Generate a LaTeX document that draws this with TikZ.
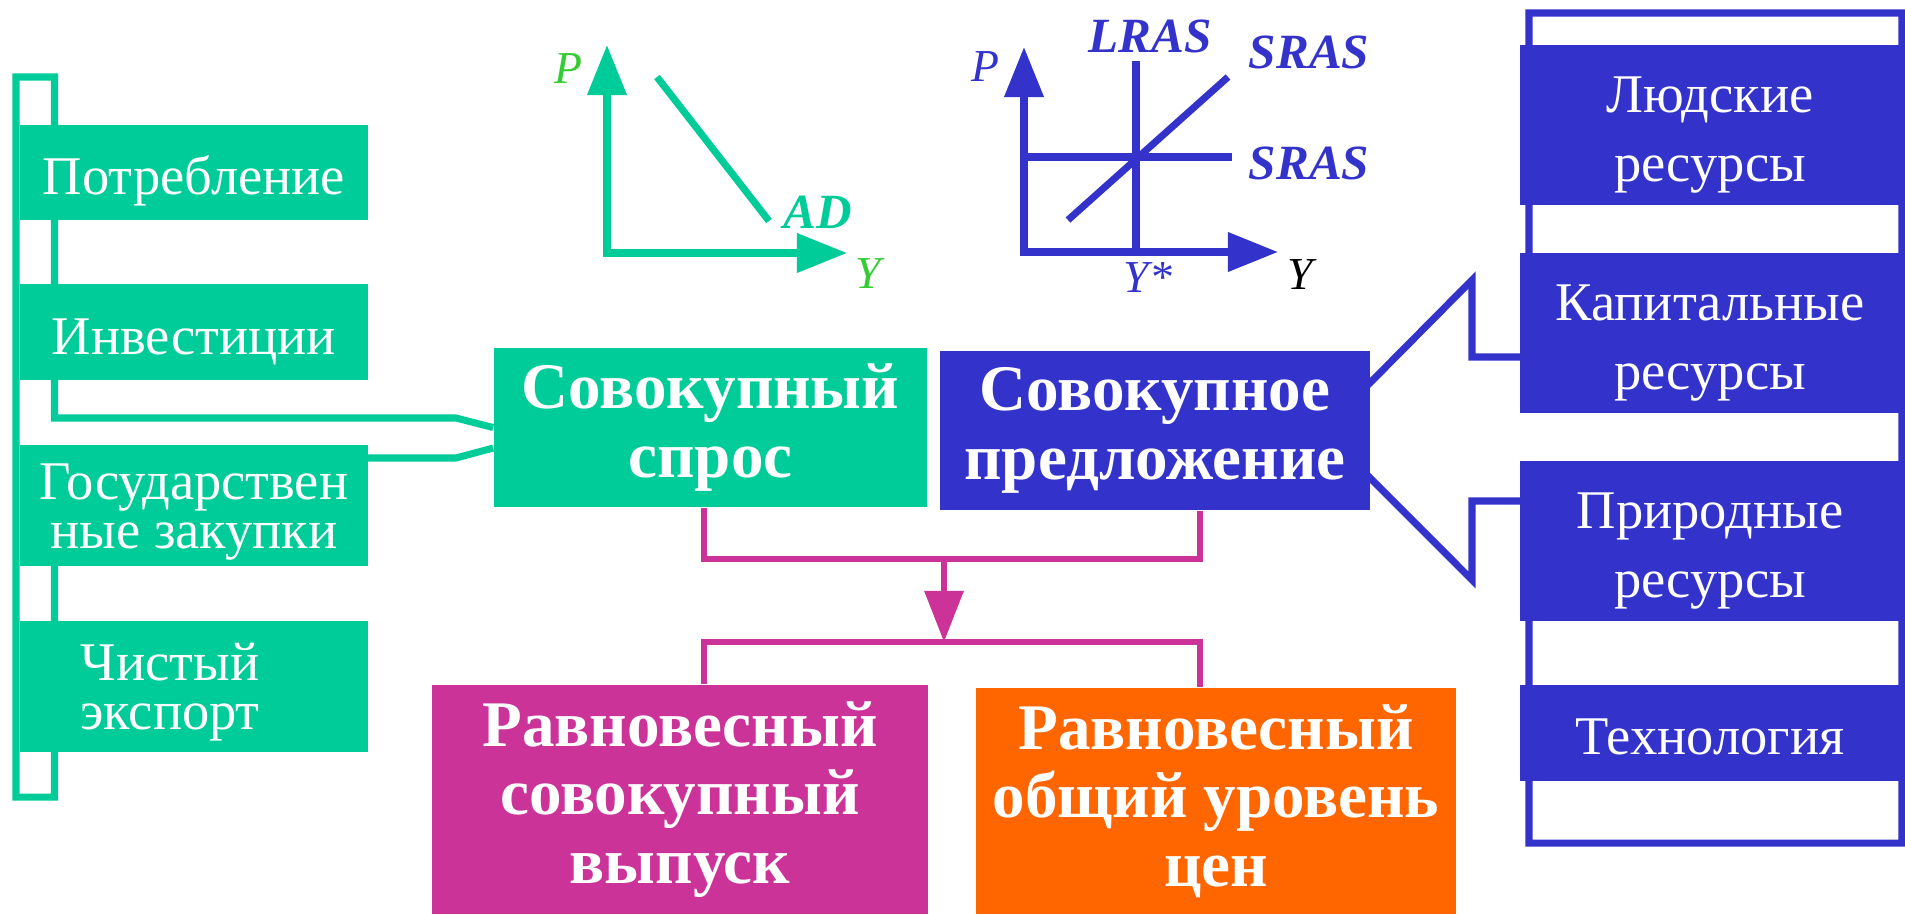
\documentclass[tikz,border=0pt]{standalone}
\usepackage{fontspec}
\setmainfont{Liberation Serif}
\usepackage{xcolor}
\usepackage{tikz}
\usetikzlibrary{arrows.meta,backgrounds}
\definecolor{adgreen}{RGB}{0,204,153}
\definecolor{lblgreen}{RGB}{51,204,51}
\definecolor{asblue}{RGB}{51,51,204}
\definecolor{eqmagenta}{RGB}{204,51,153}
\definecolor{eqorange}{RGB}{255,102,0}
\newcommand{\tlift}[1]{\rule{0pt}{#1}}

\begin{document}
\begin{tikzpicture}[x=0.01cm, y=-0.01cm,
  lbox/.style={fill=adgreen, text=white, align=center, inner sep=0pt,
               minimum width=3.48cm, font=\fontsize{15.5}{14}\selectfont},
  rbox/.style={fill=asblue, text=white, align=center, inner sep=0pt,
               minimum width=3.8cm, font=\fontsize{15.5}{19.5}\selectfont},
  bigbox/.style={text=white, align=center, inner sep=0pt,
                 font=\bfseries\fontsize{18.5}{19.5}\selectfont},
  grax/.style={line width=2pt,
               {Triangle[length=5mm,width=3.8mm]}-{Triangle[length=5mm,width=3.8mm]}},
  grline/.style={line width=2pt},
  lbl/.style={font=\itshape\fontsize{13}{13}\selectfont, inner sep=0pt},
  blbl/.style={font=\bfseries\itshape\fontsize{14}{14}\selectfont, inner sep=0pt},
  magline/.style={draw=eqmagenta, line width=1.7pt},
  brline/.style={line width=2pt, line join=miter}
]
  \useasboundingbox (0,0) rectangle (1905,914);

  % components of demand
  \node[lbox, minimum height=0.95cm] (cons) at (194,172.5) {\tlift{16pt}Потребление};
  \node[lbox, minimum height=0.96cm] (inv)  at (194,332)   {\tlift{16pt}Инвестиции};
  \node[lbox, minimum height=1.21cm] (gov)  at (194,505.5) {\tlift{14pt}Государствен\\ные закупки};
  \node[lbox, minimum height=1.31cm] (nx)   at (194,686.5)
        {\tlift{14pt}Чистый\hspace*{0.48cm}\\экспорт\hspace*{0.48cm}};

  % factors of supply
  \node[rbox, minimum height=1.6cm]  (labor) at (1710,125) {\tlift{16pt}Людские\\ресурсы};
  \node[rbox, minimum height=1.6cm]  (capit) at (1710,333) {\tlift{16pt}Капитальные\\ресурсы};
  \node[rbox, minimum height=1.6cm]  (natur) at (1710,541) {\tlift{16pt}Природные\\ресурсы};
  \node[rbox, minimum height=0.96cm] (tech)  at (1710,733) {\tlift{12.5pt}Технология};

  % main blocks
  \node[bigbox, fill=adgreen, minimum width=4.33cm, minimum height=1.59cm]
        (spros) at (710.5,427.5) {Совокупный\\спрос};
  \node[bigbox, fill=asblue, minimum width=4.3cm, minimum height=1.59cm]
        (predl) at (1155,430.5) {Совокупное\\предложение};
  \node[bigbox, fill=eqmagenta, minimum width=4.96cm, minimum height=2.29cm]
        (vypusk) at (680,799.5) {Равновесный\\совокупный\\выпуск};
  \node[bigbox, fill=eqorange, minimum width=4.8cm, minimum height=2.26cm]
        (ceny) at (1216,801) {Равновесный\\общий уровень\\цен};

  % brackets behind the boxes
  \begin{scope}[on background layer]
    \draw[adgreen, brline] (spros.west) -- (456,418) -- (54.5,418) -- (54.5,77)
      -- (16,77) -- (16,797) -- (54.5,797) -- (54.5,458) -- (456,458)
      -- ([yshift=-0.205cm]spros.west);
    \draw[asblue, brline] ([xshift=-0.48cm]predl.east) -- (1472,280) -- (1472,357)
      -- (1529,357) -- (1529,13) -- (1902,13) -- (1902,843) -- (1529,843)
      -- (1529,501) -- (1472,501) -- (1472,580) -- cycle;
  \end{scope}

  % AD graph
  \draw[adgreen, grax] (607,45) -- (607,253) -- (847,253);
  \draw[adgreen, grline] (657,77) -- (769,221);
  \node[lbl, text=lblgreen] (adP) at (568,69) {P};
  \node[blbl, text=adgreen] (adAD) at (818,212) {AD};
  \node[lbl, text=lblgreen] (adY) at (868,274) {Y};

  % AS graph
  \draw[asblue, grax] (1024,47) -- (1024,252) -- (1278,252);
  \draw[asblue, grline] (1136,61) -- (1136,252);
  \draw[asblue, grline] (1024,157) -- (1232,157);
  \draw[asblue, grline] (1068,220) -- (1228,77);
  \node[lbl, text=asblue] (asP) at (985,67) {P};
  \node[blbl, text=asblue] (lras) at (1150,36) {LRAS};
  \node[blbl, text=asblue] (srasA) at (1309,52) {SRAS};
  \node[blbl, text=asblue] (srasB) at (1309,163) {SRAS};
  \node[lbl, text=asblue] (ystar) at (1148,278) {Y*};
  \node[lbl, text=black] (asY) at (1300,275) {Y};

  % equilibrium connectors
  \coordinate (join)  at (944,559);
  \coordinate (split) at (944,642);
  \draw[magline] ([xshift=-0.065cm]spros.south) |- (join) -| ([xshift=0.45cm]predl.south);
  \draw[magline, -{Triangle[length=5.1mm,width=3.8mm]}] (join) -- (split);
  \draw[magline] ([xshift=0.24cm]vypusk.north) |- (split) -| ([xshift=-0.16cm]ceny.north);
\end{tikzpicture}
\end{document}
